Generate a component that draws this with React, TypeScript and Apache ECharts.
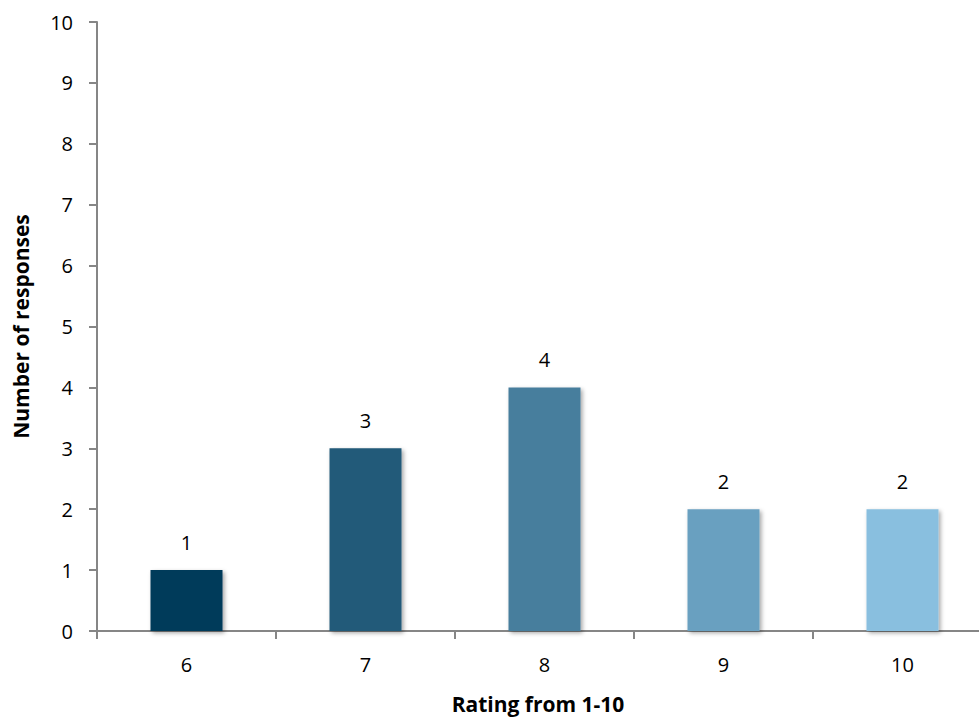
import React, { useEffect, useRef } from "react";
import * as echarts from "echarts";

const ratings = ["6", "7", "8", "9", "10"];
const responses = [1, 3, 4, 2, 2];
const barColors = ["#043a5a", "#245a79", "#467e9d", "#69a0c0", "#89bfdf"];

const FONT = "'Open Sans', 'Noto Sans', sans-serif";

export default function App() {
  const ref = useRef<HTMLDivElement>(null);

  useEffect(() => {
    if (!ref.current) return;
    const chart = echarts.init(ref.current, undefined, { renderer: "svg" });
    chart.setOption({
      animation: false,
      backgroundColor: "#ffffff",
      grid: { left: 97, right: 0, top: 22, bottom: 89, containLabel: false },
      xAxis: {
        type: "category",
        data: ratings,
        name: "Rating from 1-10",
        nameLocation: "middle",
        nameGap: 62,
        nameTextStyle: { fontFamily: FONT, fontSize: 21, fontWeight: "bold", color: "#000", padding: [0, 13, 0, 0] },
        axisLine: { lineStyle: { color: "#868686", width: 2 } },
        axisTick: { show: true, inside: false, length: 8, alignWithLabel: false, lineStyle: { color: "#868686", width: 2 } },
        axisLabel: { fontFamily: FONT, fontSize: 20, color: "#000", margin: 23 },
        splitLine: { show: false },
      },
      yAxis: {
        type: "value",
        min: 0,
        max: 10,
        interval: 1,
        name: "Number of responses",
        nameLocation: "middle",
        nameGap: 66,
        nameTextStyle: { fontFamily: FONT, fontSize: 21, fontWeight: "bold", color: "#000" },
        axisLine: { show: true, lineStyle: { color: "#868686", width: 2 } },
        axisTick: { show: true, inside: false, length: 8, lineStyle: { color: "#868686", width: 2 } },
        axisLabel: { fontFamily: FONT, fontSize: 20, color: "#000", margin: 24 },
        splitLine: { show: false },
      },
      series: [
        {
          type: "bar",
          barWidth: 72,
          data: responses.map((v, i) => ({
            value: v,
            itemStyle: {
              color: barColors[i],
              shadowColor: "rgba(0,0,0,0.35)",
              shadowBlur: 4,
              shadowOffsetX: 2,
              shadowOffsetY: 2,
            },
          })),
          label: {
            show: true,
            position: "top",
            distance: 18,
            fontFamily: FONT,
            fontSize: 20,
            color: "#000",
          },
        },
      ],
    });
    return () => chart.dispose();
  }, []);

  return (
    <div
      style={{
        position: "absolute",
        left: 0,
        top: 0,
        width: 979,
        height: 720,
        overflow: "hidden",
        background: "#ffffff",
      }}
    >
      {/* the plot runs a little past the right edge, so the last category is cut */}
      <div ref={ref} style={{ width: 992, height: 720 }} />
    </div>
  );
}
